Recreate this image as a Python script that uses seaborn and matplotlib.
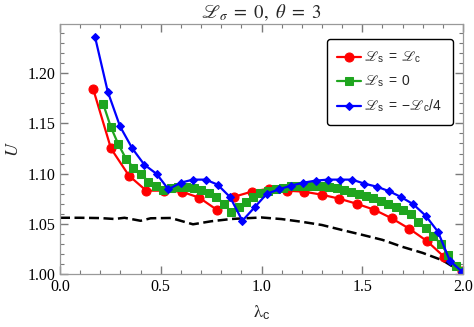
import numpy as np
import pandas as pd
import matplotlib
matplotlib.use("Agg")
import matplotlib.pyplot as plt
import seaborn as sns
from matplotlib.ticker import MultipleLocator

# ---- data ----
red_x = [0.165, 0.253, 0.342, 0.428, 0.516, 0.604, 0.691, 0.778, 0.865, 0.951, 1.038,
         1.125, 1.211, 1.299, 1.386, 1.472, 1.560, 1.646, 1.734, 1.820, 1.907, 1.995]
red_y = [1.184, 1.125, 1.098, 1.083, 1.083, 1.082, 1.076, 1.064, 1.077, 1.082, 1.085,
         1.083, 1.082, 1.079, 1.075, 1.070, 1.064, 1.0555, 1.045, 1.033, 1.017, 1.003]

green_x = [0.215, 0.253, 0.290, 0.327, 0.364, 0.401, 0.438, 0.476, 0.513, 0.550, 0.588,
           0.625, 0.663, 0.700, 0.738, 0.776, 0.812, 0.849, 0.886, 0.923, 0.960, 0.995,
           1.032, 1.070, 1.108, 1.146, 1.186, 1.224, 1.262, 1.299, 1.337, 1.374, 1.411,
           1.446, 1.482, 1.519, 1.555, 1.593, 1.629, 1.666, 1.704, 1.742, 1.778, 1.816,
           1.853, 1.889, 1.927, 1.965, 2.000]
green_y = [1.169, 1.146, 1.129, 1.115, 1.106, 1.100, 1.092, 1.088, 1.084, 1.086, 1.087,
           1.087, 1.086, 1.084, 1.081, 1.077, 1.070, 1.062, 1.067, 1.072, 1.077, 1.081,
           1.083, 1.085, 1.086, 1.0875, 1.088, 1.088, 1.088, 1.088, 1.087, 1.086, 1.084,
           1.082, 1.080, 1.078, 1.076, 1.073, 1.070, 1.067, 1.064, 1.060, 1.052, 1.0455,
           1.038, 1.030, 1.019, 1.008, 1.003]

blue_x = [0.174, 0.237, 0.298, 0.359, 0.418, 0.480, 0.538, 0.600, 0.660, 0.723, 0.782,
          0.844, 0.905, 0.966, 1.027, 1.087, 1.146, 1.208, 1.269, 1.329, 1.390, 1.450,
          1.510, 1.572, 1.633, 1.692, 1.753, 1.815, 1.876, 1.935, 1.997]
blue_y = [1.236, 1.1816, 1.147, 1.125, 1.109, 1.0996, 1.0843, 1.091, 1.094, 1.094, 1.089,
          1.0766, 1.053, 1.0665, 1.080, 1.0843, 1.088, 1.091, 1.093, 1.094, 1.094, 1.094,
          1.090, 1.087, 1.0825, 1.0767, 1.0695, 1.058, 1.042, 1.013, 1.002]

black_x = [0.0, 0.1, 0.2, 0.27, 0.32, 0.40, 0.45, 0.55, 0.66, 0.75, 0.85, 0.95, 1.0,
           1.1, 1.2, 1.3, 1.4, 1.5, 1.6, 1.7, 1.8, 1.9, 2.0]
black_y = [1.056, 1.056, 1.0557, 1.0548, 1.0560, 1.053, 1.0555, 1.0558, 1.0495, 1.0525,
           1.0548, 1.0558, 1.0563, 1.0547, 1.052, 1.0488, 1.0438, 1.039, 1.034, 1.027,
           1.021, 1.0135, 1.001]

labels = [r'$\mathrm{ℒ}_\mathsf{s}\ \mathsf{=}\ \mathrm{ℒ}_\mathsf{c}$',
          r'$\mathrm{ℒ}_\mathsf{s}\ \mathsf{=}\ \mathsf{0}$',
          r'$\mathrm{ℒ}_\mathsf{s}\ \mathsf{=}\ \mathsf{-}\mathrm{ℒ}_\mathsf{c}\mathsf{/4}$']
title = r'$\mathrm{ℒ}_\sigma\ =\ 0,\ \theta\ =\ 3$'
xlabel = r'$\mathrm{λ}_\mathsf{c}$'
ylabel = r'$U$'

# ---- style ----
sns.set_theme(style="ticks")
plt.rcParams['font.family'] = ['Liberation Serif', 'DejaVu Serif']
plt.rcParams['mathtext.fontset'] = 'custom'
plt.rcParams['mathtext.rm'] = 'STIXGeneral'
plt.rcParams['mathtext.it'] = 'STIXGeneral:italic'
plt.rcParams['mathtext.sf'] = 'Liberation Sans'

fig = plt.figure(figsize=(4.74, 3.27), dpi=100)
ax = fig.add_axes([60/474, 53/327, 403/474, 250/327])

df_black = pd.DataFrame({'x': black_x, 'y': black_y})
sns.lineplot(data=df_black, x='x', y='y', ax=ax, color='black', linewidth=1.8,
             linestyle=(0, (4.0, 1.8)), sort=False, estimator=None)

series = [
    (red_x, red_y, '#FF0000', 'o', 6.5, labels[0]),
    (green_x, green_y, '#1FA51F', 's', 5.5, labels[1]),
    (blue_x, blue_y, '#0000FF', 'D', 3.6, labels[2]),
]
for xs, ys, c, m, ms, lab in series:
    d = pd.DataFrame({'x': xs, 'y': ys})
    sns.lineplot(data=d, x='x', y='y', ax=ax, color=c, marker=m, markersize=ms,
                 markeredgecolor=c, linewidth=1.6, sort=False, estimator=None, label=lab)

ax.set_xlim(0, 2.0)
ax.set_ylim(1.0, 1.249)
ax.xaxis.set_major_locator(MultipleLocator(0.5))
ax.xaxis.set_minor_locator(MultipleLocator(0.1))
ax.yaxis.set_major_locator(MultipleLocator(0.05))
ax.yaxis.set_minor_locator(MultipleLocator(0.01))
ax.xaxis.set_major_formatter(matplotlib.ticker.FormatStrFormatter('%.1f'))
ax.yaxis.set_major_formatter(matplotlib.ticker.FormatStrFormatter('%.2f'))
for axis in (ax.xaxis, ax.yaxis):
    for which, ln, w in (('major', 5.5, 1.0), ('minor', 3.2, 0.8)):
        ax.tick_params(axis='x' if axis is ax.xaxis else 'y', which=which,
                       direction='in', bottom=True, top=True, left=True, right=True,
                       length=ln, width=w, color='#7a7a7a',
                       labelsize=11.5, labelcolor='black')
for s in ax.spines.values():
    s.set_visible(True)
    s.set_color('#999999')
    s.set_linewidth(0.9)

ax.set_xlabel(xlabel, fontsize=13, labelpad=6)
ax.set_ylabel(ylabel, fontsize=13, labelpad=4)
ax.set_title(title, fontsize=13.5, pad=4)

leg = ax.legend(loc='upper left', bbox_to_anchor=(0.6625, 0.94), borderaxespad=0,
                fontsize=10, frameon=True, fancybox=True, edgecolor='black',
                handlelength=1.7, labelspacing=0.6, borderpad=0.75, handletextpad=0.25)
leg.get_frame().set_linewidth(1.0)
leg.get_frame().set_alpha(1)

fig.savefig('out.png', dpi=100)
